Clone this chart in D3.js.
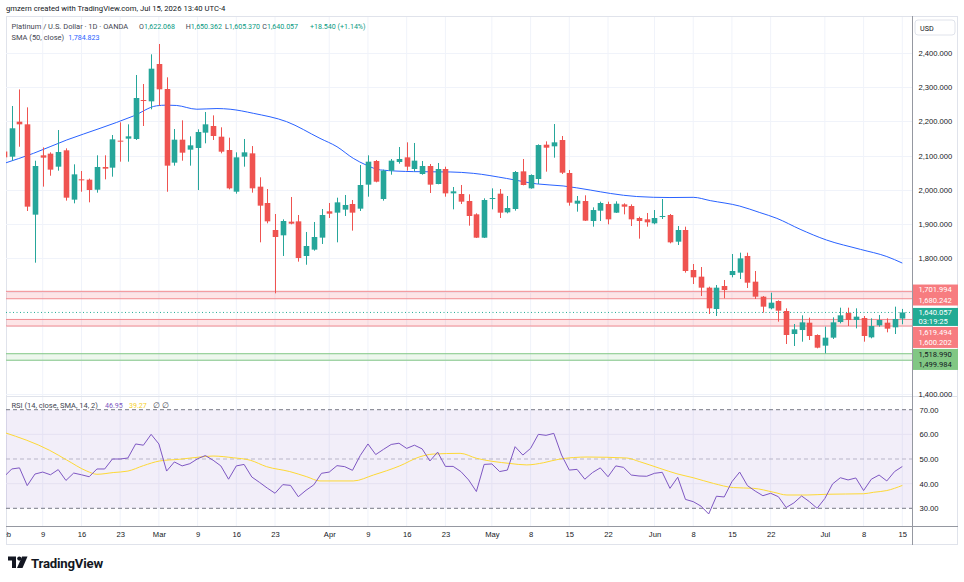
<!DOCTYPE html>
<html>
<head>
<meta charset="utf-8">
<script src="https://cdn.jsdelivr.net/npm/d3@7"></script>
<style>
  body { margin: 0; background: #fff; }
  svg { display: block; font-family: Roboto, "Liberation Sans", sans-serif; }
</style>
</head>
<body>
<div id="chart"></div>
<script>
// daily OHLC, Platinum / USD (OANDA), Feb 2 .. Jul 15
const opens = [2112,2096.8,2199.5,2191.7,1926.8,2100.8,2105.7,2067.5,2115.5,1970.8,
  2030.4,2029.4,2000,2066.6,2064.6,2143.8,2149.7,2148.7,2263,2259.1,
  2368.6,2295.3,2079.3,2146.7,2117.4,2122.3,2167.3,2186.8,2155.5,2116.4,
  1994.2,2096.9,2106.6,2008.9,1961,1881.8,1866.2,1906.3,1907.2,1805.6,
  1824.2,1859.4,1936.6,1932.7,1941.5,1958.1,1944.4,2014.8,2084.2,1972.7,
  2055.8,2081.2,2094.9,2060.7,2046,2069.5,2016.7,2060.7,1989.3,1987.4,
  1966.9,1927.7,1859.3,1973.7,1988.3,1933.6,1943.4,2053.8,2004,2031.4,
  2132,2127.2,2145.7,2049,1959,1966.8,1908.2,1938.5,1958,1932.6,
  1957,1952.2,1917,1913.1,1901.4,1920.9,1925.8,1847.6,1881.8,1764.5,
  1745,1712.7,1650.1,1717.6,1749.8,1756.7,1805.6,1730.3,1686.3,1652.1,
  1673.6,1644.3,1576.8,1588.5,1610,1573.9,1542.6,1566.1,1612,1638.4,
  1617.9,1623.7,1567,1602.2,1610,1596.4,1622.068];
const highs = [2125,2245.5,2294,2241.5,2085,2124,2109.6,2175,2121.3,2074.4,
  2054.8,2032.4,2100.8,2100.8,2160.4,2197.6,2191.7,2336.4,2310,2397,
  2427.3,2329.5,2178,2203.4,2156.5,2177,2227.9,2218,2183,2152.6,
  2109.6,2148.7,2128,2036.3,2002,1928.7,1913.1,1978.6,1925.8,1876,
  1905.3,1943.4,1961,1976.6,1984.5,1969.8,2072.4,2100.8,2087.1,2058.7,
  2090,2125.2,2138.9,2137,2084.2,2075.4,2078.3,2067.5,2007.9,2013.8,
  1986.4,1930.7,1974.7,2004,2002,1981.5,2054.8,2090,2045,2133,
  2141.8,2192.6,2157.5,2057.8,1981.5,1983.5,1948.3,1964.9,1964.9,1965.9,
  1960,1957,1920.9,1931.7,1940.4,1972.7,1928.7,1893.5,1891.6,1782.1,
  1773.3,1715.6,1720.5,1735.2,1811.4,1815.3,1815.3,1761.6,1688.2,1698,
  1675.6,1652.1,1606.1,1631.6,1624.7,1575.8,1598.3,1625.7,1654,1654,
  1652.1,1629.6,1622.8,1632.6,1622.8,1657,1650.362];
const lows = [2085,2085,2126,1937.5,1786,2009,2041,2055.8,1967.9,1960,
  1994,1963,1991.3,2030.4,2038.2,2082.2,2082.2,2145.8,2186.8,2235.7,
  2246.4,1994,2070.5,2085,2070.5,1999,2136,2145.8,2106.7,2001,
  1988.4,2067.5,1991.3,1845.7,1901.4,1696.1,1805.6,1898.5,1789,1780,
  1821.2,1840.8,1917,1845.7,1922.9,1879.9,1937.6,1979.5,2021.6,1967.8,
  2044,2076.3,2055.8,2053.8,2044,1990.3,2015.8,1979.5,1942.4,1958,
  1894.5,1858.3,1858.3,1942.4,1917,1930.7,1938.5,2012.8,2003,2016.7,
  2052.9,2093.9,2046,1953.2,1935.6,1908.2,1891.6,1908.2,1898.4,1931.7,
  1927.7,1893.5,1856.4,1891.6,1898.4,1914.1,1842.7,1837.8,1756.7,1723.4,
  1688.2,1635.5,1629.6,1681.4,1743,1738.1,1711.7,1679.5,1639.4,1649.2,
  1613,1547.5,1541.6,1554.3,1559.2,1534.8,1520.1,1562.2,1608.1,1600.3,
  1593.4,1554.3,1564.1,1598.3,1581.7,1576.8,1605.370];
const closes = [2095,2180.1,2191.7,1950.3,2069.5,2094,2058.8,2110.6,1976.6,2045,
  2027.5,1999.1,2066.6,2061.7,2147.7,2140.9,2156.5,2268.9,2261,2354.9,
  2294.3,2070.5,2146.7,2108.6,2130.1,2169.2,2191.7,2157.5,2111.5,2004,
  2094.9,2109.6,2004,1953.2,1907.2,1861.3,1908.2,1900.4,1799.7,1834.9,
  1861.3,1925.8,1929.7,1962.9,1955.2,1932.7,2013.8,2082.2,2023.5,2055.8,
  2085.2,2090,2067.5,2085.2,2069.5,2014.8,2060.7,1989.3,1995.2,1964.9,
  1922.9,1859.3,1969.8,1975.6,1932.6,1946.3,2051.9,2013.8,2043.1,2131,
  2123.2,2138.9,2049.9,1962,1967.8,1909.2,1940.4,1961,1913.1,1959,
  1950.2,1913.1,1908.2,1904.3,1917,1922.9,1845.6,1881.8,1761.6,1743,
  1712.7,1652.1,1712.7,1705.8,1761.6,1798.7,1727.3,1686.3,1657,1668.7,
  1645.2,1573.9,1590.5,1611,1570.9,1536.7,1566.1,1611,1631.6,1617.9,
  1627.7,1571,1600.3,1617.9,1592.5,1620.8,1640.057];

// RSI(14) per bar
const rsiValues = [42.8,45.95,46.4,39.2,43.9,44.7,43.6,45.7,41.3,44.3,
  43.6,42.8,45.95,45.95,50.0,50.0,50.4,56.1,55.6,60.0,
  56.1,45.1,48.8,47.2,48.1,50.1,51.4,49.5,47.2,41.8,
  47.2,47.8,42.7,40.5,38.2,36.1,39.6,39.3,34.7,37.3,
  39.5,44.2,44.7,47.3,46.9,45.4,51.4,56.1,51.8,53.9,
  55.9,56.4,54.3,55.6,54.1,49.2,52.8,47.0,47.0,44.9,
  41.5,36.8,47.8,48.0,44.9,45.5,55.0,51.6,54.3,60.0,
  59.6,60.4,51.6,45.5,45.8,41.8,44.5,46.4,42.8,47.2,
  46.6,43.5,43.1,43.0,44.2,44.6,38.1,42.6,33.6,32.7,
  30.9,27.7,34.9,34.6,40.8,44.7,39.2,37.0,35.1,36.1,
  34.7,30.3,32.2,35.0,32.7,30.0,34.0,39.9,42.4,41.5,
  42.3,37.2,41.8,43.5,41.1,44.9,46.95];

// SMA(50) of close (bar position, value)
const smaBars = [0,3.8,8.1,12.4,16.7,19.7,21,22.3,24.9,27.5,29.2,32.2,36.5,40.8,43,45.1,46.8,48.6,52.9,57.6,
  60.6,64.9,68.8,72.2,75.7,78.3,81.7,86,89,91.2,95,97.6,99.8,102.8,106.2,110.6,114,116];
const smaValues = [2077,2106.6,2145.8,2180,2216,2246,2248,2247,2236,2238,2236,2224,2199.5,2150.6,2126,2092,2072,2058,2053,2052,
  2048,2033,2017,2011,1999,1989,1980,1977,1977.6,1968,1952,1933,1916,1884,1852.5,1825,1804,1784.823];

// SMA(14) of RSI
const rsiSmaBars = [0,5.9,8.1,10.7,12,14.1,16,18,20.1,22.7,25.3,27,29.6,31.8,33.9,36.9,39.1,40.8,45.1,47.7,
  51.1,53.7,55.4,58.9,61,65.3,67.5,69.7,71.8,75.3,80.4,82.1,84.7,86.9,89,91.6,94.2,96.8,99.4,101.1,
  103.7,106.3,111,112.3,114,116];
const rsiSmaValues = [60.8,53.5,49.6,45.1,43.8,44.5,45.1,47.3,49.2,49.9,50.8,51.2,50.5,49.5,46.9,44.9,42.8,41.1,41.1,43.5,
  47.2,50.9,52.0,52.3,50.3,48.2,47.6,48.5,50.0,50.8,50.4,48.9,46.2,44.0,42.4,40.1,38.4,38.1,36.5,35.4,
  35.4,35.7,35.9,36.5,37.2,39.27];

const tickDates = ["2026-02-02","2026-02-09","2026-02-16","2026-02-23","2026-03-02","2026-03-09","2026-03-16","2026-03-23",
  "2026-04-01","2026-04-09","2026-04-16","2026-04-23","2026-05-01","2026-05-08","2026-05-15","2026-05-22",
  "2026-06-01","2026-06-08","2026-06-15","2026-06-22","2026-07-01","2026-07-08","2026-07-15"];
const tickLabels = ["Feb","9","16","23","Mar","9","16","23","Apr","9","16","23","May","8","15","22","Jun","8","15","22","Jul","8","15"];
const priceTicks = [2400,2300,2200,2100,2000,1900,1800,1700,1600,1500,1400];
const rsiTicks = [70,60,50,40,30];
const zoneTops = [1701.994,1619.494,1518.990];
const zoneBottoms = [1680.242,1600.202,1499.984];
const zoneKinds = ["red","red","green"];
const holidays = ["2026-04-03"];

// trading calendar (weekdays, Good Friday closed)
const dates = [];
for (let d = new Date(Date.UTC(2026, 1, 2)); dates.length < closes.length; d.setUTCDate(d.getUTCDate() + 1)) {
  const wd = d.getUTCDay(), s = d.toISOString().slice(0, 10);
  if (wd > 0 && wd < 6 && !holidays.includes(s)) dates.push(s);
}
const bars = closes.map((c, i) => ({i, o: opens[i], h: highs[i], l: lows[i], c}));

const W = 964, H = 582;
const padL = 6, padR = 912.5, padT = 16, mainBottom = 396, rsiTop = 397, axisY = 526, frameBottom = 545;
const UP = "#26a69a", DOWN = "#ef5350", TEXT = "#131722", GRID = "#f0f3fa", LEG = "#434651";
const FS = 7.6;

const svg = d3.select("#chart").append("svg").attr("width", W).attr("height", H);

const x = d3.scaleLinear().domain([0, closes.length - 1]).range([4, 902.3]);
const y = d3.scaleLinear().domain([1400, 2400]).range([394.3, 53.3]);
const yr = d3.scaleLinear().domain([30, 70]).range([508.3, 409.7]);

const defs = svg.append("defs");
defs.append("clipPath").attr("id", "mainClip").append("rect")
  .attr("x", padL).attr("y", padT).attr("width", padR - padL).attr("height", mainBottom - padT);
defs.append("clipPath").attr("id", "rsiClip").append("rect")
  .attr("x", padL).attr("y", rsiTop).attr("width", padR - padL).attr("height", axisY - rsiTop);
defs.append("clipPath").attr("id", "axisClip").append("rect")
  .attr("x", padL).attr("y", axisY).attr("width", padR - padL).attr("height", frameBottom - axisY);

// header
svg.append("text").attr("x", 6).attr("y", 11).attr("font-size", 7.7).attr("fill", TEXT)
  .text("gmzern created with TradingView.com, Jul 15, 2026 13:40 UTC-4");

// frame
svg.append("rect").attr("x", padL + 0.5).attr("y", padT + 0.5).attr("width", 958 - padL - 1).attr("height", frameBottom - padT - 1)
  .attr("fill", "none").attr("stroke", "#e0e3eb");

// grid
const tickIdx = tickDates.map(t => dates.indexOf(t));
const grid = svg.append("g");
grid.append("g").attr("clip-path", "url(#mainClip)").selectAll("line").data(tickIdx).join("line")
  .attr("x1", d => x(d)).attr("x2", d => x(d)).attr("y1", padT + 1).attr("y2", mainBottom)
  .attr("stroke", GRID);
grid.append("g").attr("clip-path", "url(#rsiClip)").selectAll("line").data(tickIdx).join("line")
  .attr("x1", d => x(d)).attr("x2", d => x(d)).attr("y1", rsiTop).attr("y2", axisY)
  .attr("stroke", GRID);
grid.selectAll(".hg").data(priceTicks).join("line")
  .attr("x1", padL).attr("x2", padR).attr("y1", d => Math.round(y(d)) + 0.5).attr("y2", d => Math.round(y(d)) + 0.5)
  .attr("stroke", GRID);

// zones
const zoneG = svg.append("g").attr("clip-path", "url(#mainClip)");
zoneTops.forEach((t, k) => {
  const red = zoneKinds[k] === "red";
  zoneG.append("rect").attr("x", padL).attr("width", padR - padL)
    .attr("y", y(t)).attr("height", y(zoneBottoms[k]) - y(t))
    .attr("fill", red ? "rgba(242,54,69,0.13)" : "rgba(76,175,80,0.10)");
  [t, zoneBottoms[k]].forEach(v => zoneG.append("line")
    .attr("x1", padL).attr("x2", padR).attr("y1", y(v)).attr("y2", y(v))
    .attr("stroke", red ? "#f28b90" : "#81c784").attr("stroke-width", 1));
});

// last price line
const last = bars[bars.length - 1];
svg.append("line").attr("x1", padL).attr("x2", padR).attr("y1", y(last.c)).attr("y2", y(last.c))
  .attr("stroke", "#22ab94").attr("stroke-dasharray", "1,2.5");

// SMA 50
svg.append("path").attr("clip-path", "url(#mainClip)")
  .datum(smaBars.map((b, k) => [b, smaValues[k]]))
  .attr("fill", "none").attr("stroke", "#2962ff").attr("stroke-width", 1)
  .attr("d", d3.line().x(d => x(d[0])).y(d => y(d[1])).curve(d3.curveMonotoneX));

// candles
const cg = svg.append("g").attr("clip-path", "url(#mainClip)");
const bw = 5.6;
cg.selectAll(".wick").data(bars).join("line")
  .attr("x1", d => Math.round(x(d.i)) + 0.5).attr("x2", d => Math.round(x(d.i)) + 0.5)
  .attr("y1", d => y(d.h)).attr("y2", d => y(d.l))
  .attr("stroke", d => d.c >= d.o ? UP : DOWN);
cg.selectAll(".body").data(bars).join("rect")
  .attr("x", d => Math.round(x(d.i)) + 0.5 - bw / 2)
  .attr("width", bw)
  .attr("y", d => y(Math.max(d.o, d.c)))
  .attr("height", d => Math.max(1, Math.abs(y(d.o) - y(d.c))))
  .attr("fill", d => d.c >= d.o ? UP : DOWN);

// legend
const f3 = d3.format(",.3f");
const legend = svg.append("g").attr("font-size", 7.5);
legend.append("text").attr("x", 11.5).attr("y", 29).attr("fill", LEG).text("Platinum / U.S. Dollar · 1D · OANDA");
const ohlcX = [139, 185.7, 225, 262.3];
[["O", last.o], ["H", last.h], ["L", last.l], ["C", last.c]].forEach(([k, v], j) => {
  const t = legend.append("text").attr("x", ohlcX[j]).attr("y", 29).attr("font-size", 7.1);
  t.append("tspan").attr("fill", LEG).text(k);
  t.append("tspan").attr("fill", "#089981").text(f3(v));
});
legend.append("text").attr("x", 310).attr("y", 29).attr("font-size", 7.1).attr("fill", "#089981").text("+18.540 (+1.14%)");
legend.append("text").attr("x", 11.5).attr("y", 40).attr("fill", LEG).text("SMA (50, close)");
legend.append("text").attr("x", 68.3).attr("y", 40).attr("font-size", 7.1).attr("fill", "#2962ff").text(f3(smaValues[smaValues.length - 1]));

// pane separator
svg.append("line").attr("x1", padL).attr("x2", 958).attr("y1", mainBottom + 0.5).attr("y2", mainBottom + 0.5).attr("stroke", "#e0e3eb");

// RSI pane
svg.append("rect").attr("x", padL).attr("width", padR - padL).attr("y", yr(70)).attr("height", yr(30) - yr(70))
  .attr("fill", "rgba(126,87,194,0.1)");
[60, 40].forEach(v => svg.append("line").attr("x1", padL).attr("x2", padR).attr("y1", yr(v)).attr("y2", yr(v)).attr("stroke", "#e6e1f2"));
[70, 30].forEach(v => svg.append("line").attr("x1", padL).attr("x2", padR).attr("y1", yr(v)).attr("y2", yr(v))
  .attr("stroke", "#787b86").attr("stroke-dasharray", "4,3"));
svg.append("line").attr("x1", padL).attr("x2", padR).attr("y1", yr(50)).attr("y2", yr(50))
  .attr("stroke", "#b8b5c8").attr("stroke-dasharray", "4,3");
svg.append("path").attr("clip-path", "url(#rsiClip)")
  .datum(rsiSmaBars.map((b, k) => [b, rsiSmaValues[k]]))
  .attr("fill", "none").attr("stroke", "#fdd835").attr("stroke-width", 1)
  .attr("d", d3.line().x(d => x(d[0])).y(d => yr(d[1])).curve(d3.curveMonotoneX));
svg.append("path").attr("clip-path", "url(#rsiClip)")
  .datum(rsiValues)
  .attr("fill", "none").attr("stroke", "#7e57c2").attr("stroke-width", 1)
  .attr("d", d3.line().x((d, i) => x(i)).y(d => yr(d)));
const rl = svg.append("g").attr("font-size", 7.5);
rl.append("text").attr("x", 11.5).attr("y", 408).attr("fill", LEG).text("RSI (14, close, SMA, 14, 2)");
rl.append("text").attr("x", 105).attr("y", 408).attr("font-size", 7.1).attr("fill", "#7e57c2").text(rsiValues[rsiValues.length - 1].toFixed(2));
rl.append("text").attr("x", 129).attr("y", 408).attr("font-size", 7.1).attr("fill", "#f5d02c").text(rsiSmaValues[rsiSmaValues.length - 1].toFixed(2));
rl.append("text").attr("x", 152.7).attr("y", 408).attr("fill", LEG).text("∅ ∅");

// price labels on the axis, stacked so they do not overlap
const tags = [
  {vals: [zoneTops[0], zoneBottoms[0]], lines: [f3(zoneTops[0]), f3(zoneBottoms[0])], fill: "#f77c80", color: "#fff", h: 21},
  {vals: [last.c], lines: [f3(last.c), "03:19:25"], fill: "#22ab94", color: "#fff", h: 18, anchorTop: true},
  {vals: [zoneTops[1], zoneBottoms[1]], lines: [f3(zoneTops[1]), f3(zoneBottoms[1])], fill: "#f77c80", color: "#fff", h: 21},
  {vals: [zoneTops[2], zoneBottoms[2]], lines: [f3(zoneTops[2]), f3(zoneBottoms[2])], fill: "#81c784", color: TEXT, h: 21}
];
let prevBottom = -Infinity;
tags.forEach(t => {
  const c = d3.mean(t.vals, v => y(v));
  let t0 = t.anchorTop ? c - 4.5 : c - t.h / 2;
  t0 = Math.max(t0, prevBottom + 1);
  prevBottom = t0 + t.h;
  t.top = t0;
});

// right axis (tick labels hidden where a tag sits)
svg.append("line").attr("x1", padR).attr("x2", padR).attr("y1", padT).attr("y2", frameBottom).attr("stroke", "#9598a1");
const freeTicks = priceTicks.filter(v => !tags.some(t => y(v) > t.top - 4 && y(v) < t.top + t.h + 4));
const ya = svg.append("g").attr("transform", `translate(${padR},0)`)
  .call(d3.axisRight(y).tickValues(freeTicks).tickSize(0).tickPadding(6).tickFormat(f3));
ya.select(".domain").remove();
ya.selectAll("text").attr("font-size", FS).attr("fill", TEXT).attr("font-family", null);
const ra = svg.append("g").attr("transform", `translate(${padR},0)`)
  .call(d3.axisRight(yr).tickValues(rsiTicks).tickSize(0).tickPadding(7).tickFormat(d3.format(".2f")));
ra.select(".domain").remove();
ra.selectAll("text").attr("font-size", FS).attr("fill", TEXT).attr("font-family", null);

tags.forEach(t => {
  svg.append("rect").attr("x", padR + 0.5).attr("y", t.top).attr("width", 958 - padR - 0.5).attr("height", t.h)
    .attr("fill", t.fill);
  t.lines.forEach((s, k) => svg.append("text").attr("x", 918.5)
    .attr("y", t.top + (t.anchorTop ? 4.5 + k * 8.7 : 5.25 + k * 10.5)).attr("dy", "0.35em")
    .attr("font-size", FS).attr("fill", t.color).text(s));
});

// USD box
svg.append("rect").attr("x", 915).attr("y", 20).attr("width", 40).attr("height", 15).attr("rx", 3)
  .attr("fill", "#fff").attr("stroke", "#e0e3eb");
svg.append("text").attr("x", 920).attr("y", 30.5).attr("font-size", 7.2).attr("fill", TEXT).text("USD");

// time axis
svg.append("line").attr("x1", padL).attr("x2", 958).attr("y1", axisY + 0.5).attr("y2", axisY + 0.5).attr("stroke", "#9598a1");
const xa = svg.append("g").attr("clip-path", "url(#axisClip)")
  .append("g").attr("transform", `translate(0,${axisY})`)
  .call(d3.axisBottom(x).tickValues(tickIdx).tickSize(0).tickPadding(6).tickFormat((d, k) => tickLabels[k]));
xa.select(".domain").remove();
xa.selectAll("text").attr("font-size", FS).attr("fill", TEXT).attr("font-family", null);

// TradingView mark
const logo = svg.append("g").attr("fill", TEXT);
logo.append("path").attr("d", "M8,556.5 H16 V568 H12 V560.5 H8 Z");
logo.append("circle").attr("cx", 19.3).attr("cy", 558.6).attr("r", 2.1);
logo.append("path").attr("d", "M22,556.5 H27.5 L22.5,568 H17 Z");
svg.append("text").attr("x", 31).attr("y", 567.5).attr("font-size", 13.2).attr("font-weight", 700)
  .attr("fill", TEXT).attr("letter-spacing", -0.2).text("TradingView");
</script>
</body>
</html>
